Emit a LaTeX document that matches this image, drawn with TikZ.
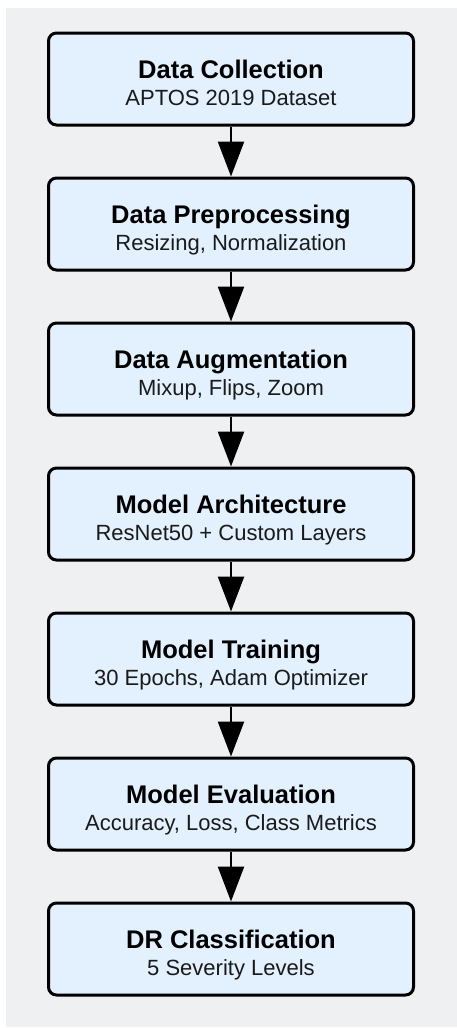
\documentclass[tikz,border=0pt]{standalone}
\usepackage{fontspec}
\setmainfont{Liberation Sans}
\usetikzlibrary{arrows.meta}
\definecolor{bggray}{HTML}{EFF0F2}
\definecolor{boxfill}{HTML}{E3F0FD}
\definecolor{subtxt}{HTML}{1A1A1A}
\tikzset{
  stagebox/.style={draw=black, fill=boxfill, line width=3pt, rounded corners=8pt,
    minimum width=365pt, minimum height=92pt, inner sep=0pt},
  ttl/.style={anchor=base, inner sep=0pt, font=\fontsize{25.5}{29}\selectfont\bfseries, text=black},
  subt/.style={anchor=base, inner sep=0pt, font=\fontsize{22}{26}\selectfont, text=subtxt},
  flow/.style={line width=2.5pt, -{Triangle[width=26pt,length=35pt]}}
}
\begin{document}
\begin{tikzpicture}[x=1pt,y=-1pt]
\useasboundingbox (0,0) rectangle (457,1028);
\fill[bggray] (6,8) rectangle (457,1027);
\foreach \i/\t/\s in {1/Data Collection/APTOS 2019 Dataset,
  2/Data Preprocessing/{Resizing, Normalization},
  3/Data Augmentation/{Mixup, Flips, Zoom},
  4/Model Architecture/ResNet50 + Custom Layers,
  5/Model Training/{30 Epochs, Adam Optimizer},
  6/Model Evaluation/{Accuracy, Loss, Class Metrics},
  7/DR Classification/5 Severity Levels}{
  \node[stagebox] (n\i) at (231, {79+145*(\i-1)}) {};
  \node[ttl] (n\i t) at ([yshift=1pt]n\i.center) {\t};
  \node[subt] (n\i s) at ([yshift=-26pt]n\i.center) {\s};
}
\foreach \a/\b in {1/2,2/3,3/4,4/5,5/6,6/7}{
  \draw[flow] (n\a.south) -- (n\b.north);
}
\end{tikzpicture}
\end{document}
